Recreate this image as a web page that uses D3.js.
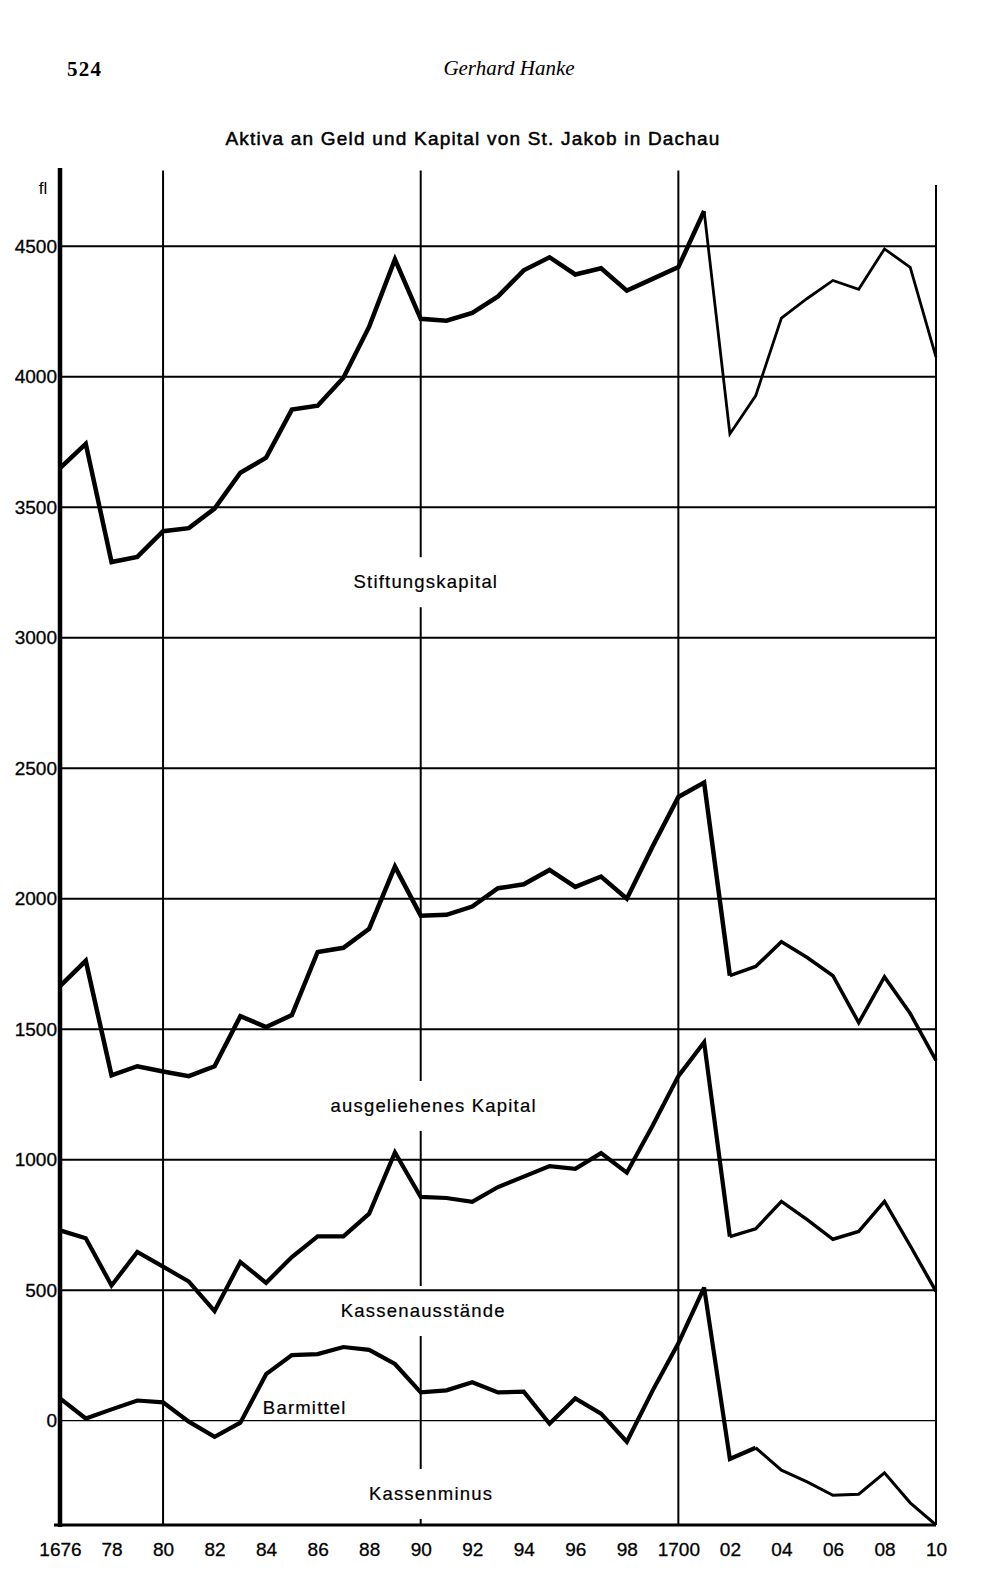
<!DOCTYPE html>
<html>
<head>
<meta charset="utf-8">
<script src="https://cdn.jsdelivr.net/npm/d3@7"></script>
<style>
body { margin: 0; background: #fff; overflow: hidden; }
</style>
</head>
<body>
<script>
// values (fl)
const years = [1676, 1677, 1678, 1679, 1680, 1681, 1682, 1683, 1684, 1685, 1686, 1687,
    1688, 1689, 1690, 1691, 1692, 1693, 1694, 1695, 1696, 1697, 1698, 1699, 1700,
    1701, 1702, 1703, 1704, 1705, 1706, 1707, 1708, 1709, 1710];

const stiftungskapital = [3650, 3743, 3290, 3310, 3408, 3420, 3495, 3632, 3690, 3874, 3889, 3996,
    4192, 4450, 4222, 4215, 4245, 4308, 4408, 4458, 4392, 4416, 4330, 4375, 4420,
    4635, 3781, 3927, 4225, 4300, 4369, 4335, 4490, 4419, 4075];

const ausgeliehenesKapital = [1665, 1762, 1323, 1358, 1338, 1320, 1358, 1550, 1508, 1554, 1796, 1812,
    1885, 2123, 1935, 1938, 1970, 2040, 2055, 2110, 2045, 2085, 2000, 2200, 2390,
    2445, 1705, 1740, 1835, 1775, 1705, 1525, 1700, 1560, 1380];

const kassenausstaende = [729, 699, 518, 646, 590, 533, 420, 608, 528, 627, 706, 706,
    793, 1028, 857, 853, 838, 895, 935, 975, 965, 1025, 950, 1130, 1320,
    1450, 705, 735, 840, 770, 695, 725, 840, 670, 495];

// Barmittel above 0, Kassenminus below
const barmittel = [85, 8, 43, 77, 70, -4, -62, -8, 178, 251, 255, 282,
    271, 217, 108, 116, 147, 108, 111, -12, 85, 27, -81, 115, 296,
    510, -147, -104, -190, -235, -286, -282, -200, -315, -400];

const yTicks = [0, 500, 1000, 1500, 2000, 2500, 3000, 3500, 4000, 4500];
const xTickYears = [1676, 1678, 1680, 1682, 1684, 1686, 1688, 1690, 1692, 1694, 1696, 1698,
    1700, 1702, 1704, 1706, 1708, 1710];
const xTickLabels = ["1676", "78", "80", "82", "84", "86", "88", "90", "92", "94", "96", "98",
    "1700", "02", "04", "06", "08", "10"];
const gridYears = [1680, 1690, 1700, 1710];

const seriesNames = ["Stiftungskapital", "ausgeliehenes Kapital", "Kassenausstände", "Barmittel", "Kassenminus"];

const FONT = '"Liberation Sans", Arial, Helvetica, sans-serif';
const SERIF = '"Liberation Serif", "DejaVu Serif", serif';

const width = 1000;
const height = 1582;

const svg = d3.select("body").append("svg")
    .attr("width", width)
    .attr("height", height)
    .style("background", "#fff");

const xScale = d3.scaleLinear().domain([1676, 1710]).range([60, 936]);
const yScale = d3.scaleLinear().domain([-400, 4800]).range([1525, 168]);

// page header
svg.append("text")
    .attr("x", 67).attr("y", 76)
    .style("font-family", SERIF).style("font-size", "21px").style("font-weight", "bold")
    .attr("textLength", 34)
    .text("524");

svg.append("text")
    .attr("x", 509).attr("y", 75)
    .attr("text-anchor", "middle")
    .style("font-family", SERIF).style("font-size", "21px").style("font-style", "italic")
    .text("Gerhard Hanke");

svg.append("text")
    .attr("x", 473).attr("y", 145)
    .attr("text-anchor", "middle")
    .attr("stroke", "#000").attr("stroke-width", 0.5)
    .style("font-family", FONT).style("font-size", "19px")
    .style("letter-spacing", "1.2px")
    .text("Aktiva an Geld und Kapital von St. Jakob in Dachau");

// label anchors, in chart units
const labelAt = [
    {year: 1690.2, value: 3190},
    {year: 1690.5, value: 1183},
    {year: 1690.1, value: 397},
    {year: 1685.5, value: 25},
    {year: 1690.4, value: -304},
];

// horizontal grid
const grid = svg.append("g").attr("class", "grid");
grid.selectAll("line.h").data(yTicks).enter().append("line")
    .attr("class", "h")
    .attr("x1", xScale(1676)).attr("x2", xScale(1710))
    .attr("y1", d => yScale(d)).attr("y2", d => yScale(d))
    .attr("stroke", "#000")
    .attr("stroke-width", d => d === 0 ? 1.3 : 2);

// vertical grid, the 1690 line is broken where the labels sit
function verticalSegments(year) {
    const top = year === 1710 ? yScale(4735) : yScale(4790);
    const bottom = yScale(-400);
    if (year !== 1690) return [[top, bottom]];
    const gaps = labelAt.filter(l => Math.abs(l.year - 1690) < 1)
        .map(l => [yScale(l.value) - 31, yScale(l.value) + 19])
        .sort((a, b) => a[0] - b[0]);
    const segs = [];
    let start = top;
    gaps.forEach(g => { segs.push([start, g[0]]); start = g[1]; });
    segs.push([start, bottom]);
    return segs;
}

gridYears.forEach(yr => {
    grid.selectAll(null).data(verticalSegments(yr)).enter().append("line")
        .attr("x1", xScale(yr)).attr("x2", xScale(yr))
        .attr("y1", d => d[0]).attr("y2", d => d[1])
        .attr("stroke", "#000").attr("stroke-width", 2);
});

// y axis
const yAxis = d3.axisLeft(yScale).tickValues(yTicks).tickSize(0).tickPadding(3)
    .tickFormat(d => String(d));
const yg = svg.append("g")
    .attr("class", "yaxis")
    .attr("transform", "translate(" + xScale(1676) + ",0)")
    .call(yAxis);
yg.select(".domain").remove();
yg.selectAll("text")
    .style("font-family", FONT).style("font-size", "19px")
    .attr("fill", "#000").attr("stroke", "#000").attr("stroke-width", 0.3);

svg.append("line")
    .attr("x1", xScale(1676)).attr("x2", xScale(1676))
    .attr("y1", yScale(4800)).attr("y2", yScale(-400) + 2)
    .attr("stroke", "#000").attr("stroke-width", 4.5);

svg.append("text")
    .attr("x", 43).attr("y", 194)
    .attr("text-anchor", "middle")
    .style("font-family", FONT).style("font-size", "17px")
    .text("fl");

// x axis
const xAxis = d3.axisBottom(xScale).tickValues(xTickYears).tickSize(0).tickPadding(18)
    .tickFormat((d, i) => xTickLabels[i]);
const xg = svg.append("g")
    .attr("class", "xaxis")
    .attr("transform", "translate(0," + yScale(-400) + ")")
    .call(xAxis);
xg.select(".domain").remove();
xg.selectAll("text")
    .style("font-family", FONT).style("font-size", "19px")
    .attr("fill", "#000").attr("stroke", "#000").attr("stroke-width", 0.3);

svg.append("line")
    .attr("x1", xScale(1676) - 6).attr("x2", xScale(1710))
    .attr("y1", yScale(-400)).attr("y2", yScale(-400))
    .attr("stroke", "#000").attr("stroke-width", 3);

// series
const line = d3.line()
    .x(d => xScale(d[0]))
    .y(d => yScale(d[1]));

function renderSeries(values, split, widthA, widthB) {
    const pts = years.map((y, i) => [y, values[i]]);
    const parts = split ? [pts.filter(p => p[0] <= split), pts.filter(p => p[0] >= split)] : [pts];
    parts.forEach((part, i) => {
        svg.append("path")
            .datum(part)
            .attr("class", "series")
            .attr("d", line)
            .attr("fill", "none")
            .attr("stroke", "#000")
            .attr("stroke-width", i === 0 ? widthA : widthB)
            .attr("stroke-linejoin", "miter")
            .attr("stroke-miterlimit", 3);
    });
}

renderSeries(stiftungskapital, 1701, 4.5, 2.8);
renderSeries(ausgeliehenesKapital, 1702, 4.5, 3.6);
renderSeries(kassenausstaende, 1702, 4.2, 3.4);
renderSeries(barmittel, 1703, 4.2, 3);

// series labels
svg.selectAll("text.label").data(seriesNames).enter().append("text")
    .attr("class", "label")
    .attr("x", (d, i) => xScale(labelAt[i].year))
    .attr("y", (d, i) => yScale(labelAt[i].value))
    .attr("text-anchor", "middle")
    .attr("stroke", "#000").attr("stroke-width", 0.2)
    .style("font-family", FONT).style("font-size", "18.5px")
    .style("letter-spacing", "1.2px")
    .text(d => d);
</script>
</body>
</html>
